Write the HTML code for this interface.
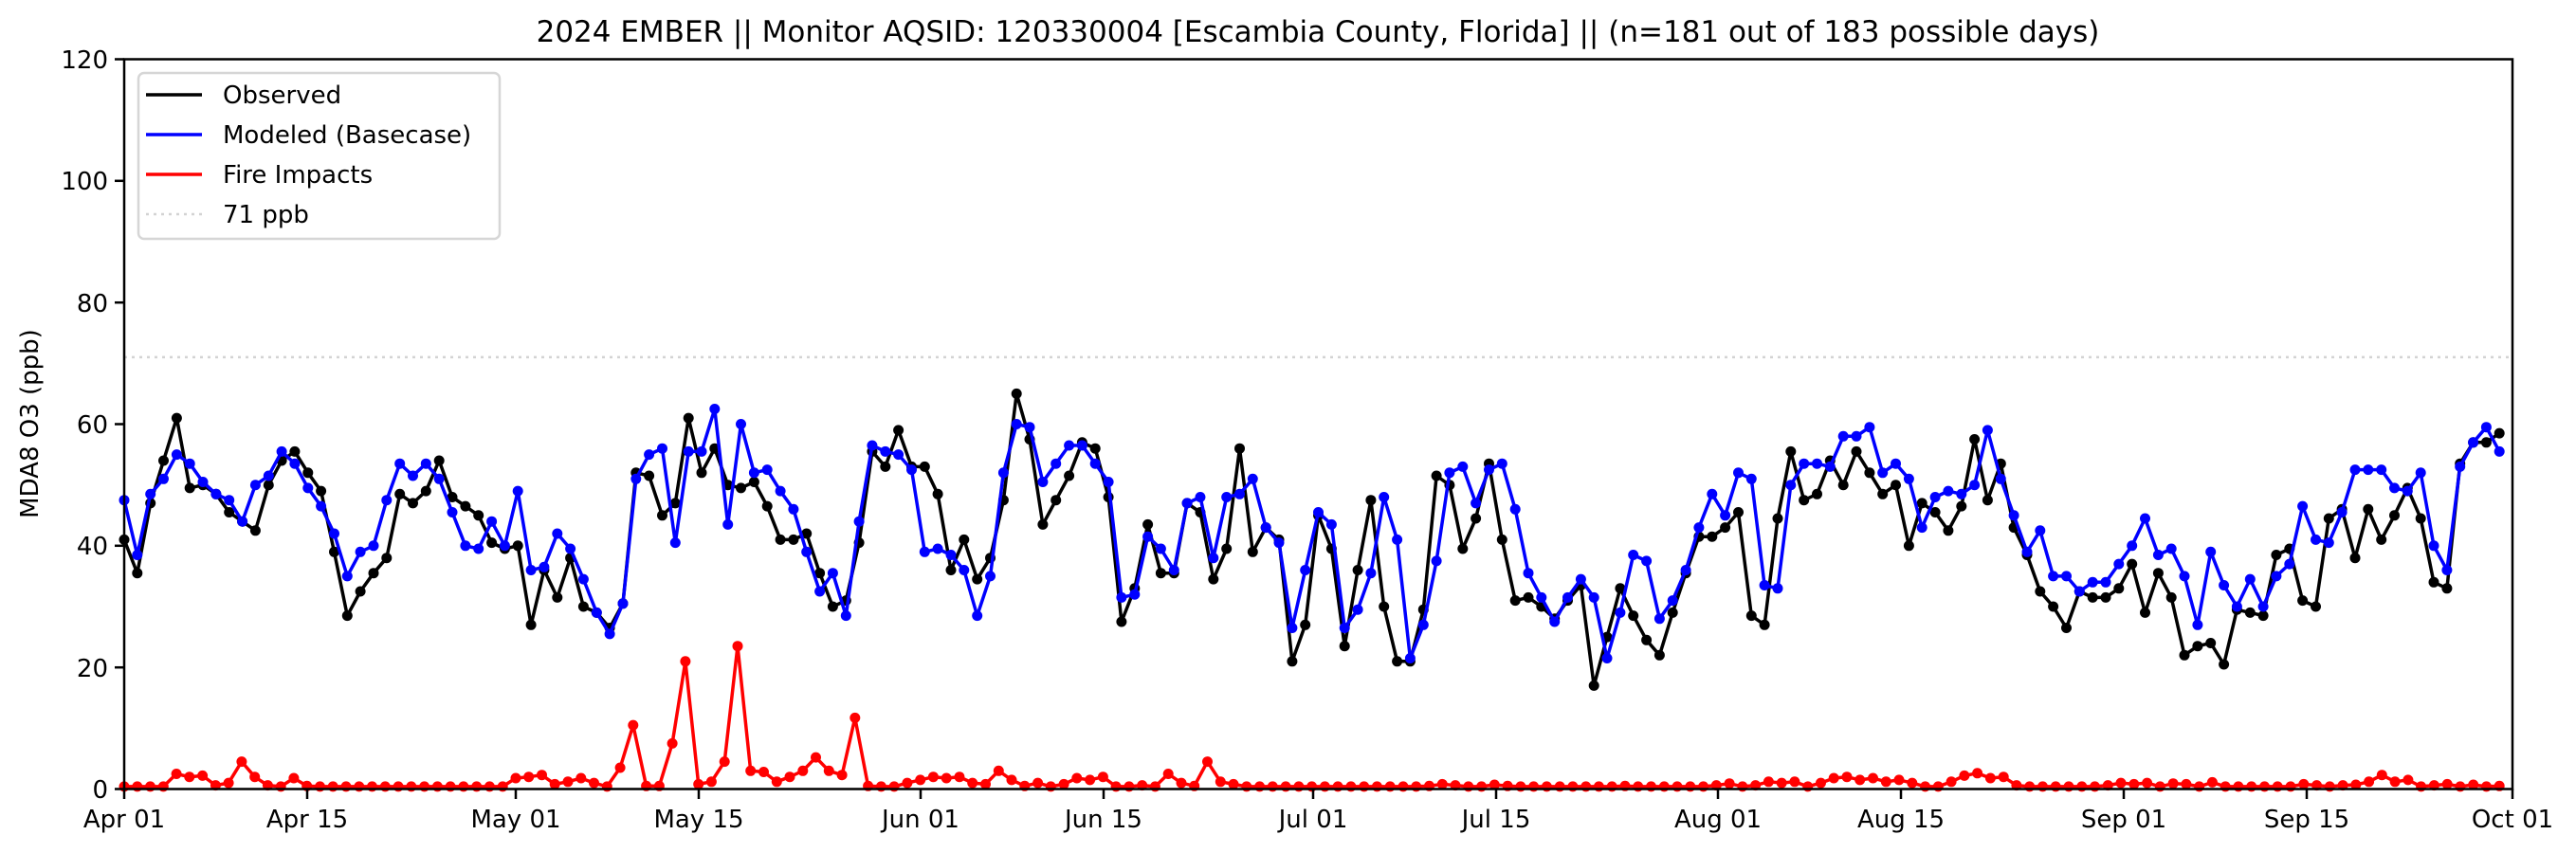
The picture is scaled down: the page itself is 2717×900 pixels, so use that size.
<!DOCTYPE html>
<html><head><meta charset="utf-8">
<style>
html,body{margin:0;padding:0;background:#fff;}
svg{display:block;font-family:"DejaVu Sans","Liberation Sans",sans-serif;}
</style></head>
<body>
<svg id="c" width="2717" height="900" viewBox="0 0 2717 900" xmlns="http://www.w3.org/2000/svg">
<rect width="2717" height="900" fill="#fff"/>
<text x="1390" y="44" font-size="31" text-anchor="middle">2024 EMBER || Monitor AQSID: 120330004 [Escambia County, Florida] || (n=181 out of 183 possible days)</text>
<line x1="131" y1="376.9" x2="2650" y2="376.9" stroke="#d3d3d3" stroke-width="2.5" stroke-dasharray="3,5"/>
<g id="series"></g>
<rect x="131" y="62.5" width="2519" height="770" fill="none" stroke="#000" stroke-width="2.5"/>
<g stroke="#000" stroke-width="2.5">
<line x1="121" y1="832.5" x2="131" y2="832.5"/><line x1="121" y1="704.2" x2="131" y2="704.2"/><line x1="121" y1="575.8" x2="131" y2="575.8"/><line x1="121" y1="447.5" x2="131" y2="447.5"/><line x1="121" y1="319.2" x2="131" y2="319.2"/><line x1="121" y1="190.8" x2="131" y2="190.8"/><line x1="121" y1="62.5" x2="131" y2="62.5"/>
<line x1="131" y1="832.5" x2="131" y2="843"/><line x1="324" y1="832.5" x2="324" y2="843"/><line x1="544" y1="832.5" x2="544" y2="843"/><line x1="737" y1="832.5" x2="737" y2="843"/><line x1="971" y1="832.5" x2="971" y2="843"/><line x1="1164" y1="832.5" x2="1164" y2="843"/><line x1="1385" y1="832.5" x2="1385" y2="843"/><line x1="1578" y1="832.5" x2="1578" y2="843"/><line x1="1812" y1="832.5" x2="1812" y2="843"/><line x1="2005" y1="832.5" x2="2005" y2="843"/><line x1="2240" y1="832.5" x2="2240" y2="843"/><line x1="2433" y1="832.5" x2="2433" y2="843"/><line x1="2650" y1="832.5" x2="2650" y2="843"/>
</g>
<g font-size="26" text-anchor="end">
<text x="114" y="842">0</text><text x="114" y="714">20</text><text x="114" y="585">40</text><text x="114" y="457">60</text><text x="114" y="329">80</text><text x="114" y="200">100</text><text x="114" y="72">120</text>
</g>
<g font-size="26" text-anchor="middle">
<text x="131" y="873">Apr 01</text><text x="324" y="873">Apr 15</text><text x="544" y="873">May 01</text><text x="737" y="873">May 15</text><text x="971" y="873">Jun 01</text><text x="1164" y="873">Jun 15</text><text x="1385" y="873">Jul 01</text><text x="1578" y="873">Jul 15</text><text x="1812" y="873">Aug 01</text><text x="2005" y="873">Aug 15</text><text x="2240" y="873">Sep 01</text><text x="2433" y="873">Sep 15</text><text x="2650" y="873">Oct 01</text>
</g>
<text transform="translate(40,447) rotate(-90)" font-size="26" text-anchor="middle">MDA8 O3 (ppb)</text>
<rect x="146" y="77" width="381" height="175" rx="6" fill="#fff" fill-opacity="0.8" stroke="#d6d6d6" stroke-width="2.5"/>
<line x1="154" y1="100" x2="213" y2="100" stroke="#000" stroke-width="3.5"/>
<line x1="154" y1="142" x2="213" y2="142" stroke="#0000ff" stroke-width="3.5"/>
<line x1="154" y1="184" x2="213" y2="184" stroke="#ff0000" stroke-width="3.5"/>
<line x1="154" y1="226" x2="213" y2="226" stroke="#d3d3d3" stroke-width="2.5" stroke-dasharray="3,5"/>
<g font-size="26">
<text x="235" y="109">Observed</text><text x="235" y="151">Modeled (Basecase)</text><text x="235" y="193">Fire Impacts</text><text x="235" y="235">71 ppb</text>
</g>
</svg>
<script>
var obs=[41,35.5,47,54,61,49.5,50,48.5,45.5,44,42.5,50,54,55.5,52,49,39,28.5,32.5,35.5,38,48.5,47,49,54,48,46.5,45,40.5,39.5,
40,27,36,31.5,38,30,29,26.5,30.5,52,51.5,45,47,61,52,56,50,49.5,50.5,46.5,41,41,42,35.5,30,31,40.5,55.5,53,59,53,
53,48.5,36,41,34.5,38,47.5,65,57.5,43.5,47.5,51.5,57,56,48,27.5,33,43.5,35.5,35.5,47,45.5,34.5,39.5,56,39,43,41,21,27,
45,39.5,23.5,36,47.5,30,21,21,29.5,51.5,50,39.5,44.5,53.5,41,31,31.5,30,28,31,33.5,17,25,33,28.5,24.5,22,29,35.5,41.5,41.5,
43,45.5,28.5,27,44.5,55.5,47.5,48.5,54,50,55.5,52,48.5,50,40,47,45.5,42.5,46.5,57.5,47.5,53.5,43,38.5,32.5,30,26.5,32.5,31.5,31.5,33,
37,29,35.5,31.5,22,23.5,24,20.5,29.5,29,28.5,38.5,39.5,31,30,44.5,46,38,46,41,45,49.5,44.5,34,33,53.5,57,57,58.5];
var mod=[47.5,38.5,48.5,51,55,53.5,50.5,48.5,47.5,44,50,51.5,55.5,53.5,49.5,46.5,42,35,39,40,47.5,53.5,51.5,53.5,51,45.5,40,39.5,44,40,
49,36,36.5,42,39.5,34.5,29,25.5,30.5,51,55,56,40.5,55.5,55.5,62.5,43.5,60,52,52.5,49,46,39,32.5,35.5,28.5,44,56.5,55.5,55,52.5,
39,39.5,38.5,36,28.5,35,52,60,59.5,50.5,53.5,56.5,56.5,53.5,50.5,31.5,32,41.5,39.5,36,47,48,38,48,48.5,51,43,40.5,26.5,36,
45.5,43.5,26.5,29.5,35.5,48,41,21.5,27,37.5,52,53,47,52.5,53.5,46,35.5,31.5,27.5,31.5,34.5,31.5,21.5,29,38.5,37.5,28,31,36,43,48.5,
45,52,51,33.5,33,50,53.5,53.5,53,58,58,59.5,52,53.5,51,43,48,49,48.5,50,59,51,45,39,42.5,35,35,32.5,34,34,37,
40,44.5,38.5,39.5,35,27,39,33.5,30,34.5,30,35,37,46.5,41,40.5,45.5,52.5,52.5,52.5,49.5,49,52,40,36,53,57,59.5,55.5];
var fire=new Array(183).fill(0.4);
var sp={4:2.5,5:2,6:2.2,7:0.6,8:1,9:4.5,10:2,11:0.6,13:1.8,14:0.5,
 30:1.8,31:2,32:2.3,33:0.8,34:1.2,35:1.8,36:1,38:3.5,39:10.5,40:0.5,41:0.5,42:7.5,43:21,44:0.8,45:1.2,46:4.5,47:23.5,48:3,49:2.8,50:1.2,51:2,52:3,53:5.2,54:3,55:2.3,56:11.7,57:0.5,
 60:1,61:1.5,62:2,63:1.8,64:2,65:1,66:0.8,67:3,68:1.5,69:0.5,70:1,72:0.8,73:1.8,74:1.5,75:2,78:0.6,80:2.5,81:1,82:0.5,83:4.5,84:1.2,85:0.8,
 100:0.5,101:0.8,102:0.6,105:0.7,106:0.5,115:0.5,122:0.6,123:0.9,125:0.6,126:1.2,127:1,128:1.2,130:1,131:1.8,132:2,133:1.5,134:1.8,135:1.2,136:1.5,137:1,140:1.2,141:2.2,142:2.6,143:1.8,144:2,145:0.6,
 152:0.6,153:1,154:0.8,155:1,157:0.9,158:0.8,160:1.1,167:0.8,168:0.6,170:0.6,171:0.7,172:1.2,173:2.3,174:1.2,175:1.5,177:0.6,178:0.8,180:0.7,182:0.5};
for(var k in sp)fire[k]=sp[k];
function X(d){return 131+d*2519/183;}
function Y(v){return 832.5-v*770/120;}
function draw(arr,col,n){
 var p='',c='';var step=(n-1)/(arr.length-1);
 for(var i=0;i<arr.length;i++){var x=X(i*step),y=Y(arr[i]);p+=(i?'L':'M')+x.toFixed(1)+','+y.toFixed(1);
  c+='<circle cx="'+x.toFixed(1)+'" cy="'+y.toFixed(1)+'" r="5.5" fill="'+col+'"/>';}
 return '<path d="'+p+'" fill="none" stroke="'+col+'" stroke-width="3.5" stroke-linejoin="round"/>'+c;
}
document.getElementById('series').innerHTML=draw(obs,'#000',183)+draw(mod,'#0000ff',183)+draw(fire,'#ff0000',183);
</script>
</body></html>
